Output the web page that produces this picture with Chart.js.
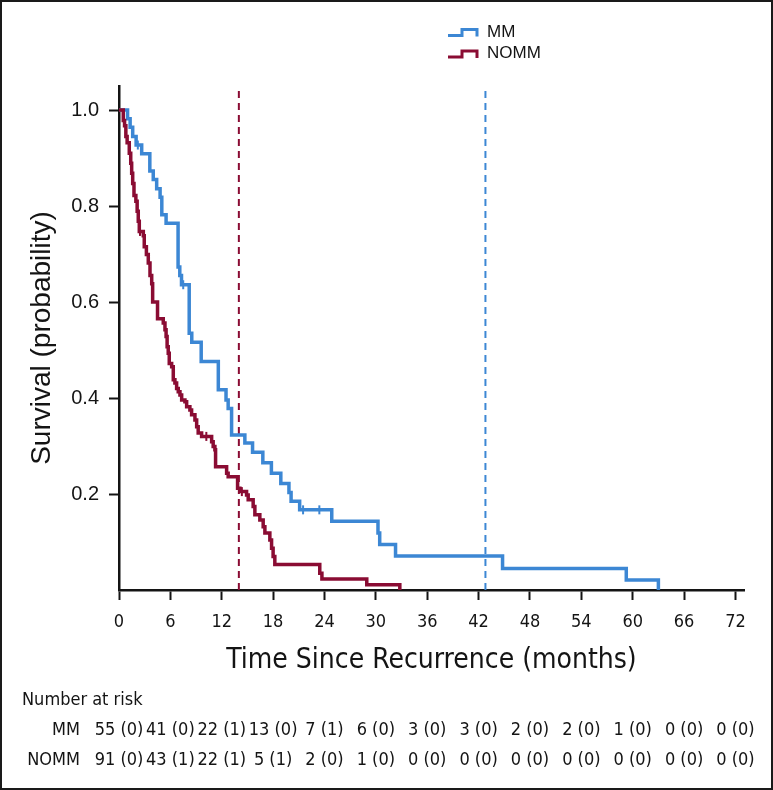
<!DOCTYPE html>
<html>
<head>
<meta charset="utf-8">
<title>Survival by recurrence group</title>
<script src="https://cdn.jsdelivr.net/npm/chart.js@4.4.1/dist/chart.umd.min.js"></script>
<style>
    html, body { margin: 0; padding: 0; background: #fff; }
    #wrap { position: relative; width: 773px; height: 790px; }
    #kmChart { position: absolute; left: 0; top: 0; }
    #frame { position: absolute; left: 0; top: 0; width: 773px; height: 790px; box-sizing: border-box; border: 2px solid #1a1a1a; pointer-events: none; }
</style>
</head>
<body>
<div id="wrap">
    <canvas id="kmChart" width="773" height="790"></canvas>
    <div id="frame"></div>
</div>
<script>
// Kaplan-Meier steps: time (months) and survival after each drop
var mmTime = [0, 1.0, 1.3, 1.6, 2.0, 2.65, 3.6, 4.0, 4.4, 4.8, 5.0, 5.5, 6.9, 7.1, 7.3, 8.2, 8.5, 9.6, 11.6, 12.5, 12.75, 13.15, 14.7, 15.6, 16.8, 17.8, 18.9, 19.85, 20.1, 21.1, 24.85, 30.25, 30.45, 32.3, 44.8, 59.25, 63.0];
var mmSurv = [1.0, 0.982, 0.964, 0.945, 0.927, 0.909, 0.873, 0.855, 0.836, 0.818, 0.782, 0.764, 0.673, 0.655, 0.636, 0.535, 0.516, 0.476, 0.417, 0.396, 0.378, 0.323, 0.306, 0.287, 0.265, 0.243, 0.222, 0.203, 0.185, 0.167, 0.143, 0.119, 0.095, 0.071, 0.045, 0.021, 0.0];
var mmCensorTime = [2.2, 7.5, 21.5, 23.4];
var mmCensorSurv = [0.927, 0.636, 0.167, 0.167];

var nommTime = [0, 0.5, 0.65, 0.8, 0.95, 1.2, 1.37, 1.48, 1.6, 1.75, 1.97, 2.12, 2.25, 2.37, 2.84, 2.95, 3.2, 3.42, 3.62, 3.82, 3.93, 4.5, 5.17, 5.37, 5.5, 5.62, 5.75, 5.87, 6.15, 6.34, 6.53, 6.73, 6.92, 7.12, 7.32, 7.7, 7.9, 8.28, 8.48, 8.87, 9.07, 9.25, 9.65, 10.82, 11.0, 11.2, 11.28, 12.57, 12.75, 13.85, 14.12, 14.9, 15.09, 15.67, 15.87, 16.45, 16.84, 17.04, 17.62, 17.82, 18.0, 18.2, 23.45, 23.7, 28.94, 32.8];
var nommSurv = [1.0, 0.978, 0.967, 0.945, 0.932, 0.91, 0.889, 0.868, 0.847, 0.822, 0.81, 0.789, 0.768, 0.747, 0.738, 0.715, 0.699, 0.681, 0.655, 0.638, 0.6, 0.565, 0.556, 0.542, 0.528, 0.507, 0.493, 0.472, 0.465, 0.438, 0.431, 0.42, 0.413, 0.406, 0.396, 0.392, 0.382, 0.375, 0.365, 0.354, 0.34, 0.327, 0.32, 0.309, 0.299, 0.292, 0.257, 0.243, 0.236, 0.212, 0.205, 0.198, 0.188, 0.174, 0.157, 0.146, 0.132, 0.119, 0.104, 0.087, 0.07, 0.053, 0.035, 0.023, 0.011, 0.0];
var nommCensorTime = [2.45, 10.2, 14.35];
var nommCensorSurv = [0.747, 0.32, 0.205];

// dashed reference lines (months)
var mmRefMonth = 42.8;
var nommRefMonth = 14.0;
var refLineTop = 1.045;

var xTickValues = [0, 6, 12, 18, 24, 30, 36, 42, 48, 54, 60, 66, 72];
var yTickValues = [0.2, 0.4, 0.6, 0.8, 1.0];

// number at risk table
var riskTimes = [0, 6, 12, 18, 24, 30, 36, 42, 48, 54, 60, 66, 72];
var mmAtRisk = [55, 41, 22, 13, 7, 6, 3, 3, 2, 2, 1, 0, 0];
var mmCensored = [0, 0, 1, 0, 1, 0, 0, 0, 0, 0, 0, 0, 0];
var nommAtRisk = [91, 43, 22, 5, 2, 1, 0, 0, 0, 0, 0, 0, 0];
var nommCensored = [0, 1, 1, 1, 0, 0, 0, 0, 0, 0, 0, 0, 0];

var blue = '#3c87d4';
var red = '#8a0c33';
var ink = '#141414';
var sans = "'Liberation Sans', Arial, sans-serif";
var narrow = "'DejaVu Sans Condensed', 'Liberation Sans Narrow', sans-serif";

function toPoints(xs, ys) {
    return xs.map(function (x, i) { return { x: x, y: ys[i] }; });
}

// step shaped legend marks, top right
const kmLegend = {
    id: 'kmLegend',
    afterDraw: function (chart) {
        const ctx = chart.ctx;
        const rows = [0, 1];
        ctx.save();
        rows.forEach(function (dsIndex, r) {
            const ds = chart.data.datasets[dsIndex];
            const y = 32 + r * 21.6;
            ctx.strokeStyle = ds.borderColor;
            ctx.lineWidth = 3;
            ctx.beginPath();
            ctx.moveTo(448, y + 3.5);
            ctx.lineTo(462, y + 3.5);
            ctx.lineTo(462, y - 2.5);
            ctx.lineTo(477, y - 2.5);
            ctx.lineTo(477, y + 4.5);
            ctx.stroke();
            ctx.fillStyle = ink;
            ctx.font = '17px ' + sans;
            ctx.textAlign = 'left';
            ctx.textBaseline = 'middle';
            ctx.fillText(ds.label, 487, y);
        });
        ctx.restore();
    }
};

// number at risk under the x axis, columns on the x scale
const riskTable = {
    id: 'riskTable',
    afterDraw: function (chart) {
        const ctx = chart.ctx;
        const xs = chart.scales.x;
        ctx.save();
        ctx.fillStyle = ink;
        ctx.font = '18px ' + narrow;
        ctx.textBaseline = 'middle';
        ctx.textAlign = 'left';
        ctx.fillText('Number at risk', 22, 700);
        const rows = [
            { label: 'MM', n: mmAtRisk, c: mmCensored, y: 730 },
            { label: 'NOMM', n: nommAtRisk, c: nommCensored, y: 760 }
        ];
        rows.forEach(function (row) {
            ctx.textAlign = 'right';
            ctx.fillText(row.label, 80, row.y);
            ctx.textAlign = 'center';
            riskTimes.forEach(function (t, i) {
                ctx.fillText(row.n[i] + ' (' + row.c[i] + ')', xs.getPixelForValue(t), row.y);
            });
        });
        ctx.restore();
    }
};

const axisGrid = { drawOnChartArea: false, drawTicks: true, tickLength: 10, tickWidth: 2, tickColor: ink };
const axisBorder = { display: true, color: ink, width: 2.5 };

const kmChart = new Chart(document.getElementById('kmChart').getContext('2d'), {
    type: 'line',
    data: {
        datasets: [
            {
                label: 'MM',
                data: toPoints(mmTime, mmSurv),
                borderColor: blue,
                borderWidth: 3.5,
                stepped: true,
                pointRadius: 0,
                fill: false,
                order: 2
            },
            {
                label: 'NOMM',
                data: toPoints(nommTime, nommSurv),
                borderColor: red,
                borderWidth: 3.5,
                stepped: true,
                pointRadius: 0,
                fill: false,
                order: 1
            },
            {
                label: 'MM censored',
                data: toPoints(mmCensorTime, mmCensorSurv),
                showLine: false,
                pointStyle: 'line',
                pointRotation: 90,
                pointRadius: 4.5,
                pointBorderWidth: 2,
                pointBorderColor: blue,
                borderColor: blue,
                order: 0
            },
            {
                label: 'NOMM censored',
                data: toPoints(nommCensorTime, nommCensorSurv),
                showLine: false,
                pointStyle: 'line',
                pointRotation: 90,
                pointRadius: 4.5,
                pointBorderWidth: 2,
                pointBorderColor: red,
                borderColor: red,
                order: 0
            },
            {
                label: 'MM reference',
                data: [{ x: mmRefMonth, y: 0 }, { x: mmRefMonth, y: refLineTop }],
                borderColor: blue,
                borderWidth: 2,
                borderDash: [7, 5],
                pointRadius: 0,
                order: 5
            },
            {
                label: 'NOMM reference',
                data: [{ x: nommRefMonth, y: 0 }, { x: nommRefMonth, y: refLineTop }],
                borderColor: red,
                borderWidth: 2,
                borderDash: [7, 5],
                pointRadius: 0,
                order: 5
            }
        ]
    },
    options: {
        responsive: false,
        animation: false,
        devicePixelRatio: 1,
        clip: false,
        layout: { padding: { top: 86, left: 0, right: 29, bottom: 100 } },
        plugins: {
            legend: { display: false },
            tooltip: { enabled: false }
        },
        scales: {
            x: {
                type: 'linear',
                min: 0,
                max: 73,
                afterBuildTicks: function (axis) {
                    axis.ticks = xTickValues.map(function (v) { return { value: v }; });
                },
                afterFit: function (axis) { axis.height = 100; },
                grid: axisGrid,
                border: axisBorder,
                ticks: {
                    color: ink,
                    font: { family: narrow, size: 18 },
                    padding: 12,
                    maxRotation: 0,
                    autoSkip: false
                },
                title: {
                    display: true,
                    text: 'Time Since Recurrence (months)',
                    color: ink,
                    font: { family: narrow, size: 28 },
                    padding: { top: 0, bottom: 12 }
                }
            },
            y: {
                type: 'linear',
                min: 0,
                max: 1.05,
                afterBuildTicks: function (axis) {
                    axis.ticks = yTickValues.map(function (v) { return { value: v }; });
                },
                afterFit: function (axis) { axis.width = 119; },
                grid: axisGrid,
                border: axisBorder,
                ticks: {
                    color: ink,
                    font: { family: sans, size: 20 },
                    padding: 10,
                    callback: function (v) { return v.toFixed(1); }
                },
                title: {
                    display: true,
                    text: 'Survival (probability)',
                    color: ink,
                    font: { family: sans, size: 28 },
                    padding: { top: 25, bottom: 0 }
                }
            }
        }
    },
    plugins: [kmLegend, riskTable]
});
</script>
</body>
</html>
